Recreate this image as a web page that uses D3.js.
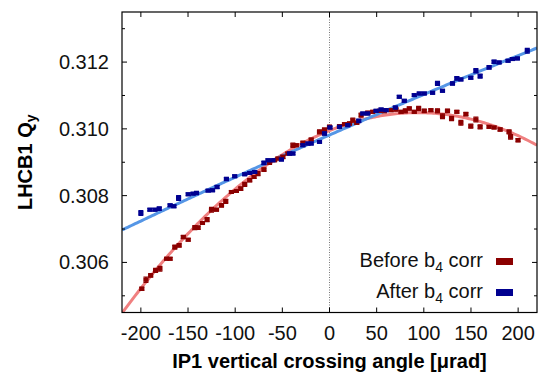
<!DOCTYPE html>
<html><head><meta charset="utf-8">
<script src="https://cdn.jsdelivr.net/npm/d3@7"></script>
<style>body{margin:0;background:#fff}svg{display:block}text{font-family:"Liberation Sans",Arial,Helvetica,sans-serif}</style>
</head><body>
<svg id="c" width="540" height="375"></svg>
<script>
// ---- data ----
const beforeX = [-199,-194.6,-189.6,-184.4,-179.8,-172.7,-169,-164,-159.4,-155,-149.8,-142.8,-139.3,-134.7,-129.8,-125.1,-119.8,-114.5,-110,-104,-98.7,-94.1,-89.9,-84.6,-80,-75.8,-69.5,-63.5,-58.2,-54.7,-49.4,-44.1,-38.8,-35.2,-28.2,-19.4,-10.6,-5.3,0,10.6,15.9,21.2,24.7,28.9,33.5,40.5,45.8,52.9,58.2,65.3,70.5,75.8,80.4,84.6,89.9,94.5,100.5,107.5,114.5,119.8,125.1,129.4,135,139.3,144.6,149.8,155.2,159.7,169.2,174.5,180.9,190.4,192,199.9];
const beforeY = [0.30521,0.30548,0.30561,0.30576,0.30581,0.30611,0.30611,0.30646,0.30651,0.30676,0.30668,0.30704,0.30704,0.30718,0.30728,0.30758,0.30758,0.30771,0.30783,0.30811,0.30814,0.30821,0.30834,0.30846,0.30856,0.30866,0.30878,0.30901,0.30906,0.30911,0.30916,0.30926,0.30951,0.30951,0.30958,0.30968,0.30991,0.30998,0.31006,0.31008,0.31014,0.31016,0.31026,0.31018,0.31041,0.31048,0.31051,0.31054,0.31054,0.31056,0.31058,0.31051,0.31054,0.31061,0.31051,0.31061,0.31054,0.31056,0.31054,0.31038,0.31054,0.31031,0.31051,0.31018,0.31044,0.31008,0.31028,0.31006,0.31006,0.31004,0.30998,0.30991,0.30976,0.30966];
const beforeErr = [0.00005,0.00008,0.00005,0.00006,0.00007,0.00004,0.00004,0.00006,0.00005,0.00005,0.00004,0.00006,0.00005,0.00004,0.00006,0.00007,0.00004,0.00005,0.00006,0.00004,0.00004,0.00005,0.00006,0.00005,0.00004,0.00006,0.00005,0.00007,0.00004,0.00004,0.00005,0.00004,0.00006,0.00004,0.00005,0.00004,0.00006,0.00004,0.00005,0.00004,0.00004,0.00005,0.00006,0.00004,0.00006,0.00005,0.00004,0.00004,0.00006,0.00004,0.00005,0.00004,0.00006,0.00005,0.00004,0.00006,0.00005,0.00004,0.00006,0.00007,0.00005,0.00006,0.00004,0.00007,0.00005,0.00006,0.00007,0.00006,0.00004,0.00004,0.00005,0.00006,0.00007,0.00005];
const afterX = [-200,-190.4,-185,-180.5,-169,-165,-160,-149.8,-144.6,-141,-128.7,-124,-119.2,-109.3,-100.5,-89.9,-84.6,-79.3,-69.5,-65.2,-60,-51,-42.3,-38.8,-28.2,-22.9,-19.4,-10.6,-5.3,0.5,10.6,19.4,31,35.3,40.5,49.4,54.7,60,69.8,74,79.3,89.9,95.2,100.5,109.3,114.5,119.8,130.4,135,139.3,149.8,155.2,159.7,169.2,174.5,179.8,189.3,193.9,199.2,209.7];
const afterY = [0.30748,0.30758,0.30758,0.30761,0.30771,0.30768,0.30793,0.30804,0.30806,0.30808,0.30815,0.30816,0.30826,0.30850,0.30858,0.30864,0.30868,0.30871,0.30898,0.30906,0.30906,0.30908,0.30926,0.30926,0.30951,0.30956,0.30956,0.30961,0.30986,0.31004,0.31006,0.31011,0.31024,0.31046,0.31046,0.31054,0.31058,0.31056,0.31064,0.31096,0.31084,0.31101,0.31106,0.31106,0.31108,0.31136,0.31114,0.31136,0.31151,0.31148,0.31153,0.31174,0.31158,0.31184,0.31201,0.31199,0.31204,0.31209,0.31211,0.31234];
const afterErr = [0.00007,0.00004,0.00004,0.00005,0.00004,0.00004,0.00007,0.00004,0.00004,0.00005,0.00004,0.00004,0.00005,0.00005,0.00004,0.00004,0.00004,0.00004,0.00005,0.00004,0.00004,0.00004,0.00004,0.00004,0.00004,0.00004,0.00004,0.00004,0.00005,0.00004,0.00004,0.00004,0.00005,0.00004,0.00004,0.00004,0.00004,0.00004,0.00004,0.00004,0.00004,0.00004,0.00004,0.00004,0.00004,0.00006,0.00004,0.00005,0.00005,0.00004,0.00004,0.00006,0.00006,0.00005,0.00005,0.00004,0.00004,0.00004,0.00004,0.00007];
// fit coefficients (c0 + c1 x + c2 x^2)
const beforeFit = [0.30995, 1.143e-5, -6.105e-8];
const afterFit = [0.309816, 1.2387e-5, -2.47e-9];
const xTicks = [-200,-150,-100,-50,0,50,100,150,200];
const xTickLabels = ["-200","-150","-100","-50","0","50","100","150","200"];
const yTicks = [0.306,0.308,0.310,0.312];
const yTickLabels = ["0.306","0.308","0.310","0.312"];
const yMinor = [0.305,0.307,0.309,0.311,0.313];
const seriesNames = ["Before b", "After b"];

// ---- layout ----
const svg = d3.select("#c");
const L=122, R=537, T=12, B=312.5;
const x = d3.scaleLinear().domain([-220,220]).range([L,R]);
const y = d3.scaleLinear().domain([0.3045,0.3135]).range([B,T]);
const cRed="#8b0000", cBlue="#000090", cRedFit="#f08080", cBlueFit="#5596e6";

const plot = svg.append("g");
svg.append("clipPath").attr("id","pc").append("rect")
  .attr("x",L).attr("y",T).attr("width",R-L).attr("height",B-T);

// zero line
plot.append("line").attr("x1",x(0)).attr("x2",x(0)).attr("y1",T).attr("y2",B)
  .attr("stroke","#777").attr("stroke-width",1).attr("stroke-dasharray","1,1.5");

// fits
const fx = d3.range(-220,220.5,2);
const line = d3.line().x(d=>x(d[0])).y(d=>y(d[1]));
function fitPts(c){return fx.map(v=>[v,c[0]+c[1]*v+c[2]*v*v]);}
const gl = plot.append("g").attr("clip-path","url(#pc)");
gl.append("path").attr("d",line(fitPts(beforeFit))).attr("fill","none").attr("stroke",cRedFit).attr("stroke-width",3);
gl.append("path").attr("d",line(fitPts(afterFit))).attr("fill","none").attr("stroke",cBlueFit).attr("stroke-width",3);

function drawSeries(xs,ys,es,col){
  const g = plot.append("g").attr("clip-path","url(#pc)");
  xs.forEach((xv,i)=>{
    const cx=x(xv), y1=y(ys[i]-es[i]), y2=y(ys[i]+es[i]);
    g.append("line").attr("x1",cx).attr("x2",cx).attr("y1",y1).attr("y2",y2).attr("stroke",col).attr("stroke-width",1.5);
    g.append("line").attr("x1",cx-2.5).attr("x2",cx+2.5).attr("y1",y1).attr("y2",y1).attr("stroke",col).attr("stroke-width",1.3);
    g.append("line").attr("x1",cx-2.5).attr("x2",cx+2.5).attr("y1",y2).attr("y2",y2).attr("stroke",col).attr("stroke-width",1.3);
    g.append("rect").attr("x",cx-2.6).attr("y",y(ys[i])-2).attr("width",5.2).attr("height",4).attr("fill",col);
  });
}
drawSeries(beforeX,beforeY,beforeErr,cRed);
drawSeries(afterX,afterY,afterErr,cBlue);

// frame
svg.append("rect").attr("x",L).attr("y",T).attr("width",R-L).attr("height",B-T)
  .attr("fill","none").attr("stroke","#000").attr("stroke-width",1.2);

// ticks (inward, mirrored)
const tk = svg.append("g").attr("stroke","#000").attr("stroke-width",1);
xTicks.forEach(v=>{
  tk.append("line").attr("x1",x(v)).attr("x2",x(v)).attr("y1",B).attr("y2",B-5);
  tk.append("line").attr("x1",x(v)).attr("x2",x(v)).attr("y1",T).attr("y2",T+5);
});
yTicks.forEach(v=>{
  tk.append("line").attr("x1",L).attr("x2",L+5).attr("y1",y(v)).attr("y2",y(v));
  tk.append("line").attr("x1",R).attr("x2",R-5).attr("y1",y(v)).attr("y2",y(v));
});
yMinor.forEach(v=>{
  tk.append("line").attr("x1",L).attr("x2",L+3).attr("y1",y(v)).attr("y2",y(v));
  tk.append("line").attr("x1",R).attr("x2",R-3).attr("y1",y(v)).attr("y2",y(v));
});

// tick labels
const fs=20;
xTicks.forEach((v,i)=>{
  svg.append("text").attr("x",x(v)).attr("y",340).attr("text-anchor","middle")
    .attr("font-size",fs).attr("fill","#111").text(xTickLabels[i]);
});
yTicks.forEach((v,i)=>{
  svg.append("text").attr("x",109).attr("y",y(v)+7).attr("text-anchor","end")
    .attr("font-size",fs).attr("fill","#111").text(yTickLabels[i]);
});

// axis titles
svg.append("text").attr("x",(L+R)/2).attr("y",368).attr("text-anchor","middle")
  .attr("font-size",fs).attr("font-weight","bold").text("IP1 vertical crossing angle [μrad]");
const yt = svg.append("text").attr("transform",`translate(31.5,${(T+B)/2}) rotate(-90)`)
  .attr("text-anchor","middle").attr("font-size",fs).attr("font-weight","bold");
yt.append("tspan").text("LHCB1 Q");
yt.append("tspan").attr("font-size",14).attr("dy",4).text("y");

// legend
const legY=[267,298], legCols=[cRed,cBlue];
seriesNames.forEach((n,i)=>{
  const t = svg.append("text").attr("x",483).attr("y",legY[i]).attr("text-anchor","end").attr("font-size",fs).attr("fill","#111");
  t.append("tspan").text(n);
  t.append("tspan").attr("font-size",14).attr("dy",5).text("4");
  t.append("tspan").attr("dy",-5).text(" corr");
  svg.append("rect").attr("x",496).attr("y",legY[i]-9).attr("width",17).attr("height",7).attr("fill",legCols[i]);
});
</script>
</body></html>
